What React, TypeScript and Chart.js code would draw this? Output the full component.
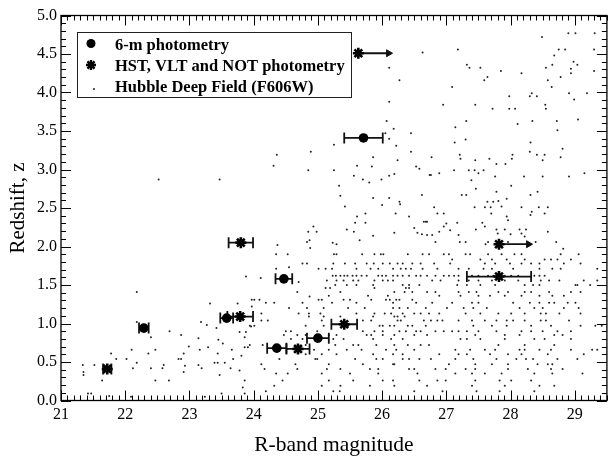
import { useEffect, useRef } from "react";
import { Chart, registerables } from "chart.js";

Chart.register(...registerables);

// 6-m telescope photometry: R magnitude, redshift, magnitude error
const sixMetreMag = [22.29, 23.58, 24.47, 25.0, 24.36, 25.71];
const sixMetreZ = [0.94, 1.07, 1.58, 0.81, 0.68, 3.41];
const sixMetreErr = [0.075, 0.1, 0.13, 0.17, 0.15, 0.3];

// HST, VLT and NOT photometry
const hstMag = [21.72, 23.79, 23.8, 24.69, 25.41, 27.82];
const hstZ = [0.41, 1.09, 2.05, 0.67, 0.99, 1.61];
const hstErr = [0.065, 0.2, 0.19, 0.18, 0.2, 0.5];

// HST/VLT/NOT objects with only a bright limit (arrow points to fainter mags)
const limitMag = [25.63, 27.82];
const limitZ = [4.51, 2.03];
const limitArrowTo = [26.1, 28.28];

// Hubble Deep Field galaxies (F606W): [R magnitude, redshift]
const hdfSparse: [number, number][] = [
  [22.52, 2.87], [23.47, 2.87],
  [26.63, 4.52], [26.11, 4.32], [26.27, 4.16], [26.11, 3.88], [26.07, 3.63], [26.18, 3.53],
  [26.05, 3.47], [26.45, 3.47], [26.11, 3.4], [25.25, 3.32], [26.22, 3.31], [24.36, 3.19],
  [24.89, 3.23], [24.31, 3.05], [24.85, 2.99], [25.25, 2.99], [25.61, 3.05], [25.86, 3.16],
  [25.84, 3.04], [26.24, 3.12], [26.53, 3.04], [26.58, 3.01], [26.74, 2.93], [26.45, 3.23],
  [25.56, 2.92], [25.7, 2.87], [25.8, 2.83], [25.99, 2.87], [26.11, 2.92], [26.19, 2.94],
  [25.33, 2.79], [25.35, 2.66], [25.86, 2.63], [26.11, 2.63], [26.27, 2.58], [26.28, 2.55],
  [26.62, 2.67], [25.42, 2.52], [26.0, 2.54], [25.74, 2.43], [25.61, 2.39], [25.58, 2.31],
  [25.74, 2.31], [26.21, 2.43], [26.42, 2.39], [26.65, 2.32], [26.7, 2.32], [26.5, 2.24],
  [26.55, 2.18], [26.62, 2.16], [26.7, 2.15], [24.93, 2.26], [24.85, 2.19], [24.98, 2.19],
  [25.45, 2.22], [25.56, 2.19], [25.86, 2.14], [26.19, 2.18], [25.65, 2.08], [24.37, 2.02],
  [24.87, 2.08], [25.23, 2.05], [25.29, 2.03], [24.88, 1.98], [24.83, 2.06],
  [28.49, 4.72], [28.9, 4.77], [29.01, 4.77], [29.31, 4.77], [27.18, 4.56], [28.75, 4.56],
  [28.85, 4.56], [29.3, 4.56], [28.68, 4.48], [28.65, 4.36], [28.98, 4.4], [29.04, 4.36],
  [28.94, 4.31], [27.32, 4.36], [27.36, 4.32], [27.53, 4.32], [27.85, 4.28], [28.17, 4.25],
  [28.55, 4.32], [28.94, 4.25], [27.64, 4.2], [27.59, 4.16], [28.58, 4.16], [28.78, 4.2],
  [29.3, 4.28], [27.09, 4.07], [28.64, 4.07], [27.98, 3.95], [28.33, 3.99], [28.3, 3.95],
  [28.41, 3.95], [28.91, 3.99], [28.99, 3.91], [29.19, 3.99], [26.95, 3.84], [27.45, 3.84],
  [27.72, 3.79], [27.98, 3.79], [28.07, 3.79], [28.54, 3.84], [28.55, 3.79], [27.31, 3.63],
  [27.14, 3.55], [28.11, 3.59], [28.34, 3.63], [28.72, 3.63], [28.73, 3.51], [29.05, 3.65],
  [27.3, 3.39], [27.13, 3.35], [28.31, 3.35], [28.3, 3.23], [28.41, 3.19], [28.53, 3.19],
  [28.5, 3.12], [28.81, 3.27], [28.78, 3.16], [26.77, 3.16], [27.21, 3.19], [27.22, 3.14],
  [27.45, 3.12], [27.67, 3.14], [27.78, 3.07], [27.92, 3.07], [28.03, 3.19], [28.02, 3.14],
  [26.76, 2.93], [26.89, 2.95], [27.12, 2.99], [27.35, 2.99], [27.44, 2.99], [27.5, 2.95],
  [27.58, 2.99], [27.76, 2.91], [28.21, 2.91], [28.5, 2.91], [28.91, 2.91], [29.15, 2.95],
  [27.39, 2.86], [28.01, 2.79], [27.46, 2.75], [27.24, 2.67], [27.31, 2.67], [27.78, 2.71],
  [28.42, 2.71], [28.31, 2.67], [27.64, 2.58], [27.73, 2.58], [27.81, 2.59], [27.94, 2.62],
  [26.81, 2.51], [27.44, 2.51], [27.6, 2.51], [27.69, 2.51], [27.86, 2.52], [28.17, 2.51],
  [28.44, 2.51], [28.58, 2.51], [28.33, 2.45], [28.31, 2.41], [28.53, 2.43], [26.86, 2.43],
  [26.96, 2.43], [27.7, 2.43], [27.94, 2.39], [27.96, 2.34], [26.68, 2.32], [27.0, 2.3],
  [27.17, 2.31], [27.56, 2.31], [27.6, 2.26], [27.46, 2.22], [27.78, 2.22], [27.91, 2.22],
  [28.14, 2.22], [28.24, 2.22], [28.58, 2.19], [26.96, 2.26], [26.89, 2.19], [27.06, 2.21],
  [26.78, 2.15], [27.19, 2.15], [27.8, 2.17], [28.0, 2.16], [28.17, 2.17], [28.22, 2.13],
  [26.83, 2.06], [27.21, 2.06], [27.3, 2.06], [27.65, 2.06], [27.96, 2.06], [28.39, 2.06],
  [27.61, 2.03], [28.71, 2.06], [28.82, 1.97],
  [24.55, 1.73], [24.11, 1.59], [24.7, 1.54], [24.87, 1.35],
  [23.88, 1.61], [22.18, 1.41], [23.32, 1.26], [23.75, 1.26], [23.97, 1.31], [23.97, 1.22],
  [22.18, 1.02], [23.18, 1.02], [23.27, 0.98], [23.42, 0.94], [23.78, 0.89], [23.88, 0.89],
  [23.96, 0.96], [22.69, 0.9], [22.87, 0.85], [23.14, 0.81], [22.4, 0.82], [23.86, 0.82],
  [22.99, 0.7], [23.29, 0.69], [23.45, 0.79], [23.52, 0.74], [23.16, 0.66], [23.66, 0.66],
  [23.86, 0.69], [23.91, 0.69], [22.1, 0.66], [22.47, 0.66], [21.78, 0.61], [22.36, 0.61],
  [23.44, 0.61], [23.81, 0.58], [21.86, 0.54], [22.02, 0.54], [22.83, 0.54], [22.87, 0.54],
  [22.91, 0.61], [23.44, 0.49], [23.39, 0.49], [23.55, 0.49], [23.68, 0.54], [22.18, 0.49],
  [21.34, 0.46], [21.52, 0.46], [22.6, 0.46], [22.93, 0.45], [23.14, 0.46], [23.19, 0.42],
  [23.64, 0.42], [22.12, 0.42], [22.4, 0.42], [22.58, 0.42], [21.35, 0.37], [21.35, 0.33],
  [22.91, 0.37], [23.47, 0.33], [23.78, 0.39], [21.64, 0.26], [22.47, 0.26], [22.68, 0.26],
  [23.86, 0.26], [23.83, 0.17], [21.42, 0.09], [21.47, 0.09], [21.75, 0.06], [23.5, 0.09],
  [23.86, 0.09], [22.09, 0.05], [23.24, 0.05],
];

// Dense part of the field, listed by redshift: [redshift, magnitudes]
const hdfRows: [number, number[]][] = [
  [1.9, [24.35, 24.53, 25.25, 25.29, 25.69, 25.88, 25.98, 26.02, 26.4, 26.63, 26.73, 26.96, 27.04, 27.3, 27.37, 27.65, 27.86, 28.06, 28.17, 28.78, 29.06]],
  [1.83, [27.09, 27.53, 27.71, 27.94, 28.22, 28.53, 28.63, 28.73, 28.94]],
  [1.78, [24.76, 24.83, 25.24, 25.42, 25.58, 25.76, 25.87, 26.01, 26.12, 26.24, 26.32, 26.47, 26.6, 26.81, 27.06, 27.6, 27.76, 27.99, 28.17, 28.32, 28.45, 28.83, 29.09]],
  [1.71, [24.35, 25.01, 25.12, 25.22, 25.6, 25.82, 25.94, 26.17, 26.29, 26.37, 26.45, 26.63, 26.86, 27.19, 27.35, 27.58, 27.71, 28.04, 28.45, 28.65, 28.78, 29.35]],
  [1.62, [25.23, 25.28, 25.35, 25.41, 25.46, 25.54, 25.6, 25.68, 25.76, 25.94, 26.0, 26.06, 26.17, 26.24, 26.32, 26.42, 26.53, 26.6, 26.7, 26.83, 26.96, 27.04, 27.12, 27.19, 27.4, 27.5, 27.65, 27.73, 27.91, 28.01, 28.12, 28.37, 28.45, 28.53]],
  [1.56, [25.14, 25.29, 25.4, 25.55, 25.63, 25.88, 26.01, 26.09, 26.17, 26.78, 26.91, 27.19, 27.35, 27.5, 27.71, 27.91, 28.12, 28.47, 28.6, 28.76, 29.14, 29.35]],
  [1.5, [25.27, 25.45, 25.6, 25.86, 26.32, 26.42, 26.58, 27.17, 27.32, 27.53, 27.76, 28.22, 28.35, 28.45, 29.01, 29.04, 29.24]],
  [1.46, [25.12, 25.19, 25.88, 26.37, 26.42]],
  [1.41, [24.68, 25.35, 26.19, 26.35, 26.47, 26.7, 26.83, 27.19, 27.35, 27.47, 27.81, 27.96, 28.22, 28.32, 28.6, 28.94, 29.09]],
  [1.36, [25.17, 25.78, 26.09, 26.89, 27.22, 27.5, 27.68, 27.91, 28.17, 28.45, 28.65, 28.83]],
  [1.31, [24.01, 24.09, 25.01, 25.06, 25.4, 25.5, 25.83, 26.06, 26.12, 26.22, 26.27, 26.47]],
  [1.27, [24.19, 24.32, 24.76, 25.22, 25.6, 26.17, 26.53, 26.78, 27.09, 27.4, 27.5, 28.04, 28.3, 28.45, 28.6, 28.68, 28.89, 29.01]],
  [1.2, [24.55, 24.83, 25.09, 25.47, 25.73, 26.17, 26.27, 26.4, 26.68, 27.01, 27.27, 27.42, 27.63, 28.14, 28.37, 28.5, 28.83, 29.06]],
  [1.13, [24.12, 24.7, 24.86, 25.04, 25.6, 25.88, 26.04, 26.14, 26.32, 26.5, 26.6, 26.73, 26.89, 27.3, 27.53, 27.81, 28.01, 28.22, 28.47, 28.55, 28.76, 29.09]],
  [1.09, [24.86, 25.09, 25.35, 25.86, 26.19, 26.24, 26.35]],
  [1.04, [24.12, 24.22, 25.06, 25.7, 25.83, 26.24, 26.29, 26.65, 26.76, 26.86, 26.94, 27.19, 27.4, 27.6, 27.78, 27.94, 28.04, 28.22, 28.47, 28.55, 28.91]],
  [0.97, [23.94, 24.01, 24.81, 25.09, 25.47, 25.96, 26.01, 26.12, 26.19, 26.4, 26.47, 26.68, 27.42, 27.71, 27.94, 28.32, 28.63, 29.09, 29.32, 29.42]],
  [0.9, [24.5, 24.58, 24.99, 25.7, 25.88, 26.01, 26.27, 26.37, 26.53, 26.6, 26.83, 26.96, 27.09, 27.19, 27.32, 27.5, 27.78, 28.17, 28.32, 28.5, 28.73, 28.94]],
  [0.85, [24.47, 24.68, 24.81, 25.17, 25.29, 25.76, 25.83, 26.01, 26.19, 26.5, 26.7, 27.45, 27.91, 28.14, 28.68, 28.81]],
  [0.8, [24.58, 24.76, 25.24, 25.4, 25.86, 26.14, 26.32, 27.22, 27.32, 27.53, 27.91, 28.37, 28.53, 28.94]],
  [0.72, [23.94, 24.14, 24.81, 25.27, 25.55, 25.63, 25.91, 26.19, 26.4, 26.6, 26.73, 27.81, 28.22, 28.68]],
  [0.66, [24.94, 25.17, 25.45, 25.68, 26.06, 26.22, 26.5, 27.14, 27.37, 27.6, 27.76, 28.14, 28.22, 28.45, 28.63, 28.94, 29.27, 29.35]],
  [0.6, [24.81, 25.06, 25.29, 25.86, 26.17, 26.32, 26.89, 27.19, 27.32, 27.68, 27.96, 28.17, 28.58, 29.14]],
  [0.54, [24.4, 24.96, 24.99, 25.58, 25.91, 26.01, 26.32, 26.42, 26.58, 26.76, 27.14, 27.42, 27.78, 28.09, 28.24, 28.35, 28.73, 29.04]],
  [0.47, [24.12, 24.65, 25.17, 25.7, 26.17, 26.19, 27.04, 27.45, 27.71, 27.96, 28.42, 28.58, 28.65]],
  [0.41, [24.17, 24.68, 25.14, 25.35, 25.81, 25.94, 26.42, 26.5, 26.83, 26.99, 27.3, 27.45, 27.96, 28.27, 28.63, 28.81]],
  [0.35, [24.35, 24.53, 25.06, 25.5, 25.94, 26.55, 27.14, 27.4, 27.6, 27.86, 28.37, 28.65, 29.12]],
  [0.26, [24.45, 25.17, 25.55, 26.01, 26.17, 26.58, 26.86, 26.99, 27.45, 27.83, 28.01, 28.32]],
  [0.19, [24.32, 25.06, 25.35, 25.81, 26.19, 26.7, 27.4, 27.91, 28.45, 28.68]],
  [0.12, [24.19, 25.24, 25.34, 26.5, 26.94, 27.47, 27.83, 28.37]],
];

const legendLabels = ["6-m photometry", "HST, VLT and NOT photometry", "Hubble Deep Field (F606W)"];
const xTitle = "R-band magnitude";
const yTitle = "Redshift, z";

const SERIF = "'Liberation Serif', 'Times New Roman', Times, serif";
const INK = "#000";

function drawStar(ctx: CanvasRenderingContext2D, x: number, y: number, r: number) {
  ctx.beginPath();
  for (let k = 0; k < 4; k++) {
    const a = (k * Math.PI) / 4;
    ctx.moveTo(x - Math.cos(a) * r, y - Math.sin(a) * r);
    ctx.lineTo(x + Math.cos(a) * r, y + Math.sin(a) * r);
  }
  ctx.stroke();
}

// Closed frame with inward major/minor ticks on all four sides, plus the boxed legend
const framePlugin = {
  id: "frameAndLegend",
  afterDraw(chart: any) {
    const { ctx, chartArea: a, scales } = chart;
    const x = scales.x;
    const y = scales.y;
    const seg = (x1: number, y1: number, x2: number, y2: number) => {
      ctx.beginPath();
      ctx.moveTo(x1, y1);
      ctx.lineTo(x2, y2);
      ctx.stroke();
    };
    ctx.save();
    ctx.strokeStyle = INK;
    ctx.lineWidth = 1.3;
    ctx.strokeRect(a.left, a.top, a.right - a.left, a.bottom - a.top);
    ctx.lineWidth = 1;
    for (let i = 0; i <= 85; i++) {
      const px = Math.round(x.getPixelForValue(21 + i / 10)) + 0.5;
      const len = i % 10 === 0 ? 10 : 5;
      seg(px, a.bottom, px, a.bottom - len);
      seg(px, a.top, px, a.top + len);
    }
    for (let i = 0; i <= 50; i++) {
      const py = Math.round(y.getPixelForValue(i / 10)) + 0.5;
      const len = i % 5 === 0 ? 10 : 5;
      seg(a.left, py, a.left + len, py);
      seg(a.right, py, a.right - len, py);
    }

    // legend box
    const bx = a.left + 16;
    const by = a.top + 16.5;
    const bw = 274;
    const bh = 65;
    ctx.fillStyle = "#fff";
    ctx.fillRect(bx, by, bw, bh);
    ctx.lineWidth = 1;
    ctx.strokeStyle = "#222";
    ctx.strokeRect(bx + 0.5, by + 0.5, bw, bh);

    const mx = bx + 14;
    ctx.fillStyle = INK;
    ctx.beginPath();
    ctx.arc(mx, by + 11.5, 4.5, 0, Math.PI * 2);
    ctx.fill();
    ctx.strokeStyle = INK;
    ctx.lineWidth = 2.4;
    drawStar(ctx, mx, by + 33, 5);
    ctx.fillStyle = "#222";
    ctx.beginPath();
    ctx.arc(mx + 3, by + 57, 1, 0, Math.PI * 2);
    ctx.fill();

    ctx.fillStyle = INK;
    ctx.font = `bold 16.5px ${SERIF}`;
    ctx.textBaseline = "alphabetic";
    ctx.textAlign = "left";
    const tx = bx + 38;
    ctx.fillText(legendLabels[0], tx, by + 18);
    ctx.fillText(legendLabels[1], tx, by + 39);
    ctx.fillText(legendLabels[2], tx, by + 59.5);
    ctx.restore();
  },
};

export default function App() {
  const canvasRef = useRef<HTMLCanvasElement | null>(null);

  useEffect(() => {
    const canvas = canvasRef.current;
    if (!canvas) return;

    const hdfData = [
      ...hdfSparse.map(([m, z]) => ({ x: m, y: z })),
      ...hdfRows.flatMap(([z, mags]) => mags.map((m) => ({ x: m, y: z }))),
    ];

    const errorBar = (m: number, z: number, e: number) => ({
      type: "line" as const,
      data: [
        { x: m - e, y: z },
        { x: m + e, y: z },
      ],
      showLine: true,
      borderColor: "#111",
      borderWidth: 1.8,
      pointStyle: "line" as const,
      pointRotation: 90,
      pointRadius: 5.5,
      pointBorderWidth: 1.8,
      pointBorderColor: "#111",
      order: 2,
    });

    const arrows = limitMag.map((m, i) => ({
      type: "line" as const,
      data: [
        { x: m, y: limitZ[i] },
        { x: limitArrowTo[i], y: limitZ[i] },
      ],
      showLine: true,
      borderColor: "#111",
      borderWidth: 1.8,
      pointStyle: "triangle" as const,
      pointRotation: 90,
      pointRadius: [0, 4],
      pointBackgroundColor: "#111",
      pointBorderColor: "#111",
      pointBorderWidth: 1,
      order: 2,
    }));

    const chart = new Chart(canvas, {
      type: "scatter",
      data: {
        datasets: [
          {
            label: legendLabels[0],
            data: sixMetreMag.map((m, i) => ({ x: m, y: sixMetreZ[i] })),
            pointStyle: "circle",
            pointRadius: 4.8,
            backgroundColor: INK,
            borderColor: INK,
            borderWidth: 0,
            order: 0,
          },
          {
            label: legendLabels[1],
            data: [
              ...hstMag.map((m, i) => ({ x: m, y: hstZ[i] })),
              ...limitMag.map((m, i) => ({ x: m, y: limitZ[i] })),
            ],
            pointStyle: "star",
            pointRadius: 5.5,
            borderColor: INK,
            backgroundColor: INK,
            borderWidth: 2.6,
            order: 0,
          },
          ...sixMetreMag.map((m, i) => errorBar(m, sixMetreZ[i], sixMetreErr[i])),
          ...hstMag.map((m, i) => errorBar(m, hstZ[i], hstErr[i])),
          ...arrows,
          {
            label: legendLabels[2],
            data: hdfData,
            pointStyle: "circle",
            pointRadius: 1,
            backgroundColor: "#222",
            borderWidth: 0,
            order: 5,
          },
        ] as any,
      },
      options: {
        animation: false,
        responsive: false,
        events: [],
        layout: { padding: { top: 15.5, right: 2, left: 0, bottom: 0 } },
        plugins: {
          legend: { display: false },
          tooltip: { enabled: false },
        },
        scales: {
          x: {
            type: "linear",
            min: 21,
            max: 29.5,
            grid: { display: false, drawTicks: false },
            border: { display: false },
            ticks: {
              stepSize: 1,
              includeBounds: false,
              color: INK,
              padding: 5,
              font: { family: SERIF, size: 16 },
              callback: (v: any) => String(v),
            },
            title: {
              display: true,
              text: xTitle,
              color: INK,
              font: { family: SERIF, size: 21.5 },
              padding: { top: 0, bottom: 1 },
            },
            afterFit: (s: any) => {
              s.height = 58.5;
            },
          },
          y: {
            type: "linear",
            min: 0,
            max: 5,
            grid: { display: false, drawTicks: false },
            border: { display: false },
            ticks: {
              stepSize: 0.5,
              color: INK,
              padding: 4,
              font: { family: SERIF, size: 16 },
              callback: (v: any) => Number(v).toFixed(1),
            },
            title: {
              display: true,
              text: yTitle,
              color: INK,
              font: { family: SERIF, size: 21 },
              padding: { top: 6, bottom: 0 },
            },
            afterFit: (s: any) => {
              s.width = 61;
            },
          },
        },
      },
      plugins: [framePlugin],
    });

    return () => chart.destroy();
  }, []);

  return (
    <div style={{ position: "fixed", left: 0, top: 0, width: 615, height: 459, background: "#fff" }}>
      <canvas ref={canvasRef} width={615} height={459} style={{ width: 615, height: 459, display: "block" }} />
    </div>
  );
}
